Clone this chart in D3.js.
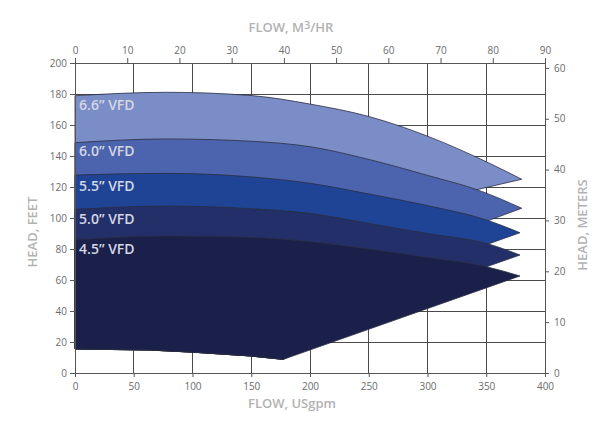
<!DOCTYPE html>
<html><head><meta charset="utf-8">
<script src="https://cdn.jsdelivr.net/npm/d3@7"></script>
<style>
body{margin:0;background:#fff}
svg{display:block}
text{font-family:"Open Sans","Noto Sans",sans-serif}
.ax text{opacity:0.99}
</style>
</head><body>
<svg id="chart" width="612" height="429"></svg>
<script>
// ---------- data (flow in USgpm, head in feet) ----------
const curveNames = ["6.6\u201D VFD","6.0\u201D VFD","5.5\u201D VFD","5.0\u201D VFD","4.5\u201D VFD"];
const curve66 = [[0,178.9],[78,181.1],[150,179],[200,173.5],[250,165.5],[300,152.8],[350,136.3],[380.2,125]];
const curve60 = [[0,148.6],[78,151],[150,149.5],[200,146],[250,137.8],[300,127.5],[345,117.5],[380.2,106.3]];
const curve55 = [[0,127.7],[78,128.8],[150,126.5],[200,122.4],[250,115.5],[300,108],[352,98.3],[378.7,90.5]];
const curve50 = [[0,105.6],[78,107.7],[150,106],[200,103],[250,96.5],[300,90],[352,83.2],[378.7,76.1]];
const curve45 = [[0,85.8],[78,88.4],[150,87.5],[200,84.7],[250,80],[300,74.5],[350,68.6],[378.7,62.6]];
// lower (right-hand) edge of each region, from its end point back toward the minimum line
const lower66 = [[100,75.7]];
const lower60 = [[200,55.8]];
const lower55 = [[250,55.8]];
const lower50 = [[300,55.2]];
const lower45 = [];
// minimum-head line along the bottom of the regions
const minLine = [[0,15.5],[64,14.8],[101,13.4],[149,11],[177.3,8.8]];
const gpmTicks = [0,50,100,150,200,250,300,350,400];
const m3hTicks = [0,10,20,30,40,50,60,70,80,90];
const feetTicks = [0,20,40,60,80,100,120,140,160,180,200];
const meterTicks = [0,10,20,30,40,50,60];
const labelFeet = [170,140,117.2,96.2,76.5];

const curves = [curve66,curve60,curve55,curve50,curve45];
const lowers = [lower66,lower60,lower55,lower50,lower45];
const colors = ["#7b8dc6","#4c64ad","#1f4496","#232f69","#1a2049"];

// ---------- layout ----------
const L=75,R=545,T=63,B=373;
const svg = d3.select("#chart");
const x = d3.scaleLinear([0,400],[L,R]);
const xTop = d3.scaleLinear([0,90],[L,R]);
const y = d3.scaleLinear([0,200],[B,T]);
const yR = d3.scaleLinear([0,200*0.3048],[B,T]);

// gridlines
const grid = svg.append("g").attr("stroke","#4a4a4a").attr("stroke-width",1).attr("shape-rendering","crispEdges");
grid.selectAll(".h").data(feetTicks).join("line").attr("class","h")
  .attr("x1",L).attr("x2",R).attr("y1",d=>y(d)).attr("y2",d=>y(d));
grid.selectAll(".v").data(gpmTicks).join("line").attr("class","v")
  .attr("y1",T).attr("y2",B).attr("x1",d=>x(d)).attr("x2",d=>x(d));

// regions
const topLine = d3.line().x(d=>x(d[0])).y(d=>y(d[1])).curve(d3.curveMonotoneX);
curves.forEach((c,i)=>{
  const rest = [...c.slice(-1), ...lowers[i], ...minLine.slice().reverse()];
  const d = topLine(c) + rest.map(p=>"L"+x(p[0])+","+y(p[1])).join("") + "Z";
  svg.append("path").attr("d",d).attr("fill",colors[i])
    .attr("stroke","#2a2d40").attr("stroke-width",0.8).attr("stroke-linejoin","miter");
});

// region labels
svg.selectAll(".lab").data(curveNames).join("text").attr("class","lab")
  .attr("x",x(3.5)).attr("y",(d,i)=>y(labelFeet[i]))
  .attr("font-size",14).attr("font-weight",600).attr("fill","#d4d7e4")
  .text(d=>d);

// axes
function style(g){
  g.attr("class","ax");
  g.selectAll("path").attr("stroke","#555");
  g.selectAll("line").attr("stroke","#555");
  g.selectAll("text").attr("fill","#6a6a6a").attr("font-size",10).attr("font-weight",400)
   .attr("font-family","'Open Sans','Noto Sans',sans-serif");
}
svg.append("g").attr("transform",`translate(0,${B})`)
  .call(d3.axisBottom(x).tickValues(gpmTicks).tickSize(4).tickSizeOuter(0).tickPadding(6)).call(style);
svg.append("g").attr("transform",`translate(0,${T})`)
  .call(d3.axisTop(xTop).tickValues(m3hTicks).tickSize(5).tickSizeOuter(0).tickPadding(4)).call(style);
svg.append("g").attr("transform",`translate(${L},0)`)
  .call(d3.axisLeft(y).tickValues(feetTicks).tickSize(5).tickSizeOuter(0).tickPadding(3)).call(style);
svg.append("g").attr("transform",`translate(${R},0)`)
  .call(d3.axisRight(yR).tickValues(meterTicks).tickSize(4).tickSizeOuter(0).tickPadding(5)).call(style);

// titles
const tcol="#b2b2b2";
const tt = svg.append("text").attr("x",291).attr("y",32).attr("text-anchor","middle")
  .attr("font-size",13).attr("font-weight",600).attr("fill",tcol);
tt.append("tspan").text("FLOW, M");
tt.append("tspan").attr("dy",-3).attr("font-size",11).text("3");
tt.append("tspan").attr("dy",3).text("/HR");
svg.append("text").attr("x",292).attr("y",408).attr("text-anchor","middle")
  .attr("font-size",13).attr("font-weight",600).attr("fill",tcol).text("FLOW, USgpm");
svg.append("text").attr("transform","translate(37,232) rotate(-90)").attr("text-anchor","middle")
  .attr("font-size",13).attr("font-weight",600).attr("fill",tcol).text("HEAD, FEET");
svg.append("text").attr("transform","translate(587,225) rotate(-90)").attr("text-anchor","middle")
  .attr("font-size",13).attr("font-weight",600).attr("fill",tcol).text("HEAD, METERS");
</script>
</body></html>
